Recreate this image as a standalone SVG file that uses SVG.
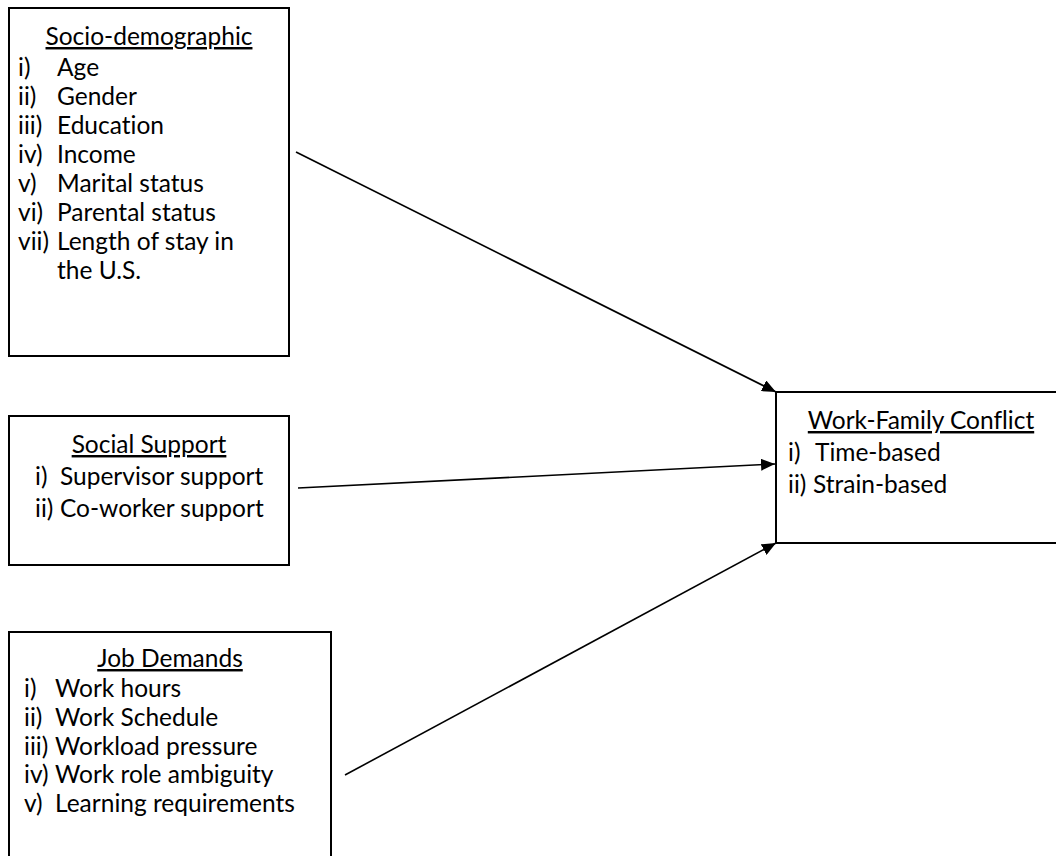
<svg xmlns="http://www.w3.org/2000/svg" width="1056" height="856" viewBox="0 0 1056 856">
<defs>
<style>
.box{fill:#fff;stroke:#000;stroke-width:2}
text{font-family:Lato,"Open Sans","Liberation Sans",sans-serif;font-size:24.5px;fill:#000;font-variant-ligatures:none;font-feature-settings:"liga" 0,"clig" 0}
.t{text-anchor:middle;text-decoration:underline}
.c{stroke:#000;stroke-width:1.6;fill:none;marker-end:url(#ah)}
</style>
<marker id="ah" viewBox="0 0 14 12" refX="14" refY="6" markerWidth="14" markerHeight="12" markerUnits="userSpaceOnUse" orient="auto">
<path d="M0,0 L14,6 L0,12 z" fill="#000"/>
</marker>
</defs>
<rect width="1056" height="856" fill="#fff"/>
<g id="socio">
<rect class="box" x="9" y="8" width="280" height="348"/>
<text class="t" x="149" y="45">Socio-demographic</text>
<text x="18" y="76">i)</text><text x="57" y="76">Age</text>
<text x="18" y="105">ii)</text><text x="57" y="105">Gender</text>
<text x="18" y="134">iii)</text><text x="57" y="134">Education</text>
<text x="18" y="163">iv)</text><text x="57" y="163">Income</text>
<text x="18" y="192">v)</text><text x="57" y="192">Marital status</text>
<text x="18" y="221">vi)</text><text x="57" y="221">Parental status</text>
<text x="18" y="250">vii)</text><text x="57" y="250">Length of stay in</text>
<text x="57" y="279">the U.S.</text>
</g>
<g id="social">
<rect class="box" x="9" y="416" width="280" height="149"/>
<text class="t" x="149" y="453">Social Support</text>
<text x="35" y="485">i)</text><text x="60" y="485">Supervisor support</text>
<text x="35" y="517">ii)</text><text x="60" y="517">Co-worker support</text>
</g>
<g id="job">
<rect class="box" x="9" y="632" width="322" height="240"/>
<text class="t" x="170" y="667">Job Demands</text>
<text x="24" y="697">i)</text><text x="55" y="697">Work hours</text>
<text x="24" y="726">ii)</text><text x="55" y="726">Work Schedule</text>
<text x="24" y="755">iii)</text><text x="55" y="755">Workload pressure</text>
<text x="24" y="783">iv)</text><text x="55" y="783">Work role ambiguity</text>
<text x="24" y="812">v)</text><text x="55" y="812">Learning requirements</text>
</g>
<g id="wfc">
<rect class="box" x="776" y="392" width="300" height="151"/>
<text class="t" x="921" y="429">Work-Family Conflict</text>
<text x="788" y="461">i)</text><text x="815" y="461">Time-based</text>
<text x="788" y="493">ii)</text><text x="813" y="493">Strain-based</text>
</g>
<g id="connectors">
<line class="c" x1="296" y1="152" x2="776" y2="392"/>
<line class="c" x1="298" y1="488" x2="775" y2="464"/>
<line class="c" x1="345" y1="775" x2="776" y2="543"/>
</g>
</svg>
